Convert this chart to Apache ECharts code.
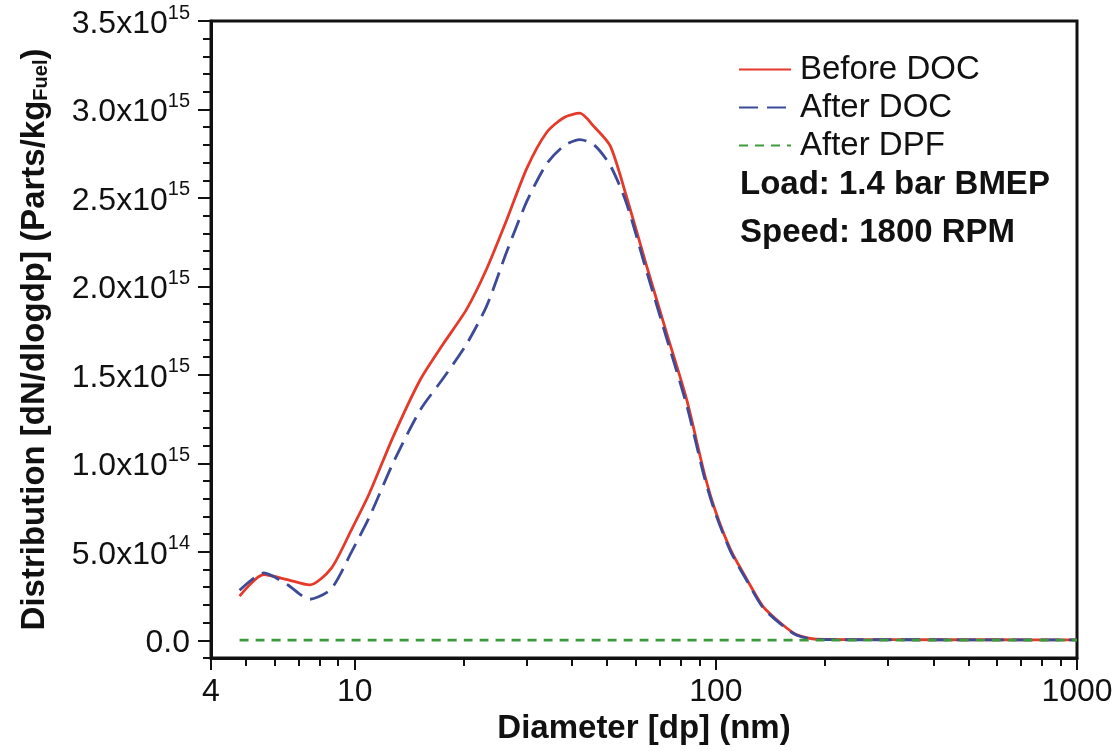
<!DOCTYPE html>
<html>
<head>
<meta charset="utf-8">
<script src="https://cdn.jsdelivr.net/npm/echarts@6/dist/echarts.min.js"></script>
<style>html,body{margin:0;padding:0;background:#fff;}#c{width:1118px;height:751px;}</style>
</head>
<body>
<div id="c"></div>
<script>
// Diameter (nm)
const diameters = [4.8, 5.6, 6.5, 7.5, 8.6, 9.8, 11, 12.8, 15.2, 17.5, 20.4, 23.2, 26.4, 30, 34, 38, 42, 46, 51, 56.5, 64, 73, 83, 93, 100, 110, 122, 135, 151, 167, 190, 250, 400, 600, 1000];
const beforeDOC = [0.249e15, 0.372e15, 0.343e15, 0.313e15, 0.405e15, 0.626e15, 0.834e15, 1.154e15, 1.474e15, 1.669e15, 1.87e15, 2.10e15, 2.38e15, 2.67e15, 2.87e15, 2.955e15, 2.979e15, 2.903e15, 2.794e15, 2.511e15, 2.13e15, 1.739e15, 1.361e15, 0.94e15, 0.724e15, 0.51e15, 0.343e15, 0.192e15, 0.098e15, 0.032e15, 0.006e15, 0.004e15, 0.003e15, 0.003e15, 0.002e15];
const afterDOC = [0.283e15, 0.381e15, 0.315e15, 0.232e15, 0.29e15, 0.50e15, 0.70e15, 1.006e15, 1.303e15, 1.475e15, 1.674e15, 1.89e15, 2.20e15, 2.483e15, 2.693e15, 2.795e15, 2.83e15, 2.80e15, 2.684e15, 2.473e15, 2.10e15, 1.71e15, 1.33e15, 0.92e15, 0.71e15, 0.50e15, 0.335e15, 0.185e15, 0.093e15, 0.03e15, 0.005e15, 0.003e15, 0.003e15, 0.002e15, 0.002e15];
const afterDPF = [0.001e15, 0.001e15, 0.001e15, 0.001e15, 0.001e15, 0.001e15, 0.001e15, 0.001e15, 0.001e15, 0.001e15, 0.001e15, 0.001e15, 0.001e15, 0.001e15, 0.001e15, 0.001e15, 0.001e15, 0.001e15, 0.001e15, 0.001e15, 0.001e15, 0.001e15, 0.001e15, 0.001e15, 0.001e15, 0.001e15, 0.001e15, 0.001e15, 0.001e15, 0.001e15, 0.001e15, 0.001e15, 0.001e15, 0.001e15, 0.001e15];

const xMajorTicks = [4, 10, 100, 1000];
const xMinorTicks = [5, 6, 7, 8, 9, 20, 30, 40, 50, 60, 70, 80, 90, 200, 300, 400, 500, 600, 700, 800, 900];
const yMajorTicks = [0, 0.5e15, 1.0e15, 1.5e15, 2.0e15, 2.5e15, 3.0e15, 3.5e15];

const FONT = '"Liberation Sans", Arial, sans-serif';
const AX = '#111';

function pair(arr) { return diameters.map((d, i) => [d, arr[i]]); }

function yFmt(v) {
  if (Math.abs(v) < 1) return '{b|0.0}';
  const e = Math.floor(Math.log10(v) + 1e-9);
  const m = v / Math.pow(10, e);
  return '{b|' + m.toFixed(1) + 'x10}{sup|' + e + '}';
}

const chart = echarts.init(document.getElementById('c'), null, {renderer: 'canvas'});
chart.setOption({
  animation: false,
  backgroundColor: '#fff',
  grid: {left: 211, right: 41, top: 21, bottom: 93, outerBoundsMode: 'none', containLabel: false,
         show: true, borderColor: AX, borderWidth: 3, backgroundColor: 'transparent'},
  legend: {
    orient: 'vertical', left: 733, top: 48, itemWidth: 52, itemHeight: 14, itemGap: 5,
    itemStyle: {opacity: 0},
    textStyle: {fontFamily: FONT, fontSize: 33, color: '#111', padding: [0, 0, 0, 4]},
    data: ['Before DOC', 'After DOC', 'After DPF']
  },
  graphic: [
    {type: 'text', left: 740, top: 168, style: {text: 'Load: 1.4 bar BMEP', font: 'bold 33px ' + FONT, fill: '#111'}},
    {type: 'text', left: 740, top: 216, style: {text: 'Speed: 1800 RPM', font: 'bold 33px ' + FONT, fill: '#111'}}
  ],
  xAxis: [
    {
      type: 'log', logBase: 10, min: 4, max: 1000, position: 'bottom',
      name: 'Diameter [dp] (nm)', nameLocation: 'middle', nameGap: 44,
      nameTextStyle: {fontFamily: FONT, fontSize: 33, fontWeight: 'bold', color: '#111'},
      axisLine: {show: true, onZero: false, lineStyle: {color: AX, width: 3}},
      axisTick: {show: true, length: 12, lineStyle: {color: AX, width: 2}, customValues: xMajorTicks},
      axisLabel: {fontFamily: FONT, fontSize: 32, color: '#111', margin: 18, customValues: xMajorTicks, formatter: v => String(Math.round(v))},
      splitLine: {show: false}, minorTick: {show: false}, minorSplitLine: {show: false}
    },
    {
      type: 'log', logBase: 10, min: 4, max: 1000, position: 'bottom',
      axisLine: {show: false, onZero: false},
      axisTick: {show: true, length: 8, lineStyle: {color: AX, width: 2}, customValues: xMinorTicks},
      axisLabel: {show: false},
      splitLine: {show: false}
    }
  ],
  yAxis: [
    {
      type: 'value', min: -1e14, max: 3.5e15, position: 'left',
      name: 'Distribution [dN/dlogdp] (Parts/kg{sub|Fuel})', nameLocation: 'middle', nameRotate: 90, nameGap: 160,
      nameTextStyle: {fontFamily: FONT, fontSize: 33, fontWeight: 'bold', color: '#111',
        rich: {sub: {fontFamily: FONT, fontSize: 20, fontWeight: 'bold', color: '#111', verticalAlign: 'bottom', lineHeight: 14}}},
      axisLine: {show: true, onZero: false, lineStyle: {color: AX, width: 3}},
      axisTick: {show: true, length: 13, lineStyle: {color: AX, width: 2}, customValues: yMajorTicks},
      axisLabel: {
        customValues: yMajorTicks, margin: 21, formatter: yFmt, color: '#111', fontFamily: FONT, fontSize: 32,
        rich: {
          b: {fontFamily: FONT, fontSize: 32, color: '#111', lineHeight: 36, padding: [6, 0, 0, 0]},
          sup: {fontFamily: FONT, fontSize: 20, color: '#111', verticalAlign: 'top', lineHeight: 20}
        }
      },
      splitLine: {show: false}
    },
    {
      type: 'value', min: -1e14, max: 3.5e15, interval: 1e14, position: 'left',
      axisLine: {show: false, onZero: false},
      axisTick: {show: true, length: 8, lineStyle: {color: AX, width: 2}},
      axisLabel: {show: false},
      splitLine: {show: false}
    }
  ],
  series: [
    {name: 'Before DOC', type: 'line', xAxisIndex: 0, yAxisIndex: 0, data: pair(beforeDOC), symbol: 'none', smooth: 0.25,
     lineStyle: {color: '#e5392a', width: 2.8, type: 'solid'}, itemStyle: {color: '#e5392a'}, z: 3},
    {name: 'After DOC', type: 'line', xAxisIndex: 0, yAxisIndex: 0, data: pair(afterDOC), symbol: 'none', smooth: 0.25,
     lineStyle: {color: '#3c4a98', width: 2.8, type: [19, 9]}, itemStyle: {color: '#3c4a98'}, z: 4},
    {name: 'After DPF', type: 'line', xAxisIndex: 0, yAxisIndex: 0, data: pair(afterDPF), symbol: 'none', smooth: 0.25,
     lineStyle: {color: '#3d9a3d', width: 2.8, type: [9, 7]}, itemStyle: {color: '#3d9a3d'}, z: 5}
  ]
});
</script>
</body>
</html>
